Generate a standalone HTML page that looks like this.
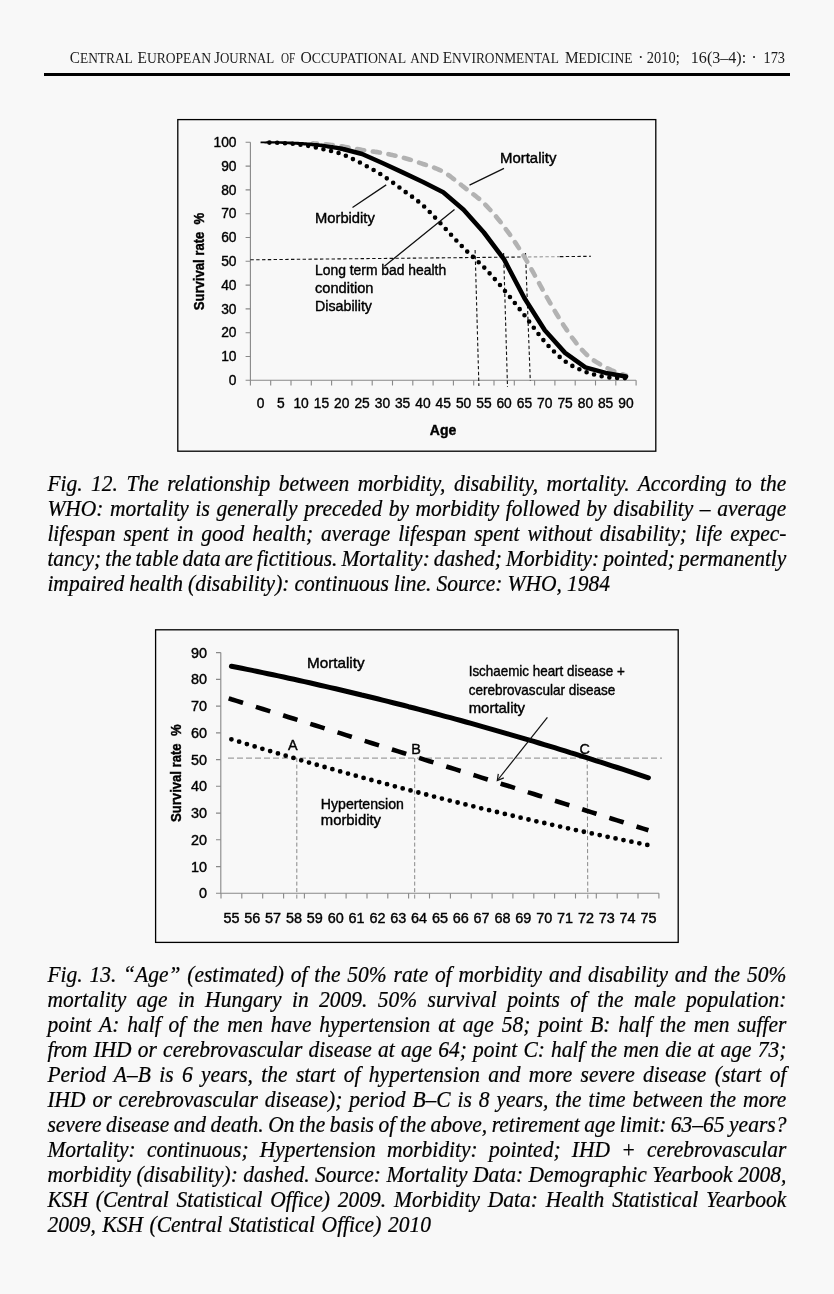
<!DOCTYPE html>
<html><head><meta charset="utf-8"><title>CEJOEM 2010 p173</title>
<style>
html,body{margin:0;padding:0;background:#f8f8f8;}
body{width:834px;height:1294px;position:relative;overflow:hidden;}
.hdr{position:absolute;left:69.6px;top:57.6px;height:0;line-height:0;white-space:nowrap;font-family:"Liberation Serif",serif;font-size:16.6px;color:#111;}
.hdr span.s{font-size:13px;}
.rule{position:absolute;left:44px;top:73px;width:746px;height:3px;background:#000;}
.ln{position:absolute;left:47.4px;width:739px;height:0;line-height:0;white-space:nowrap;font-family:"Liberation Serif",serif;font-style:italic;font-size:21.5px;color:#000;-webkit-text-stroke:0.22px #000;transform:scaleY(1.06);transform-origin:0 7px;}
.ln.j{text-align:justify;text-align-last:justify;}
svg{position:absolute;left:0;top:0;}
.hd{font-family:"Liberation Serif",serif;font-size:16.6px;fill:#1a1a1a;}
.t1{font-family:"Liberation Sans",sans-serif;font-size:13.8px;fill:#000;stroke:#000;stroke-width:0.38px;}
.t1b{font-family:"Liberation Sans",sans-serif;font-size:14px;font-weight:bold;fill:#000;stroke:#000;stroke-width:0.4px;}
.t2{font-family:"Liberation Sans",sans-serif;font-size:14.4px;fill:#000;stroke:#000;stroke-width:0.4px;}
.t2b{font-family:"Liberation Sans",sans-serif;font-size:14px;font-weight:bold;fill:#000;stroke:#000;stroke-width:0.4px;}
</style></head>
<body>
<div class="rule"></div>
<svg width="834" height="1294" viewBox="0 0 834 1294">
<text x="69.8" y="62.8" class="hd" textLength="63.0" lengthAdjust="spacingAndGlyphs">C<tspan font-size="14.6">ENTRAL</tspan></text>
<text x="137.5" y="62.8" class="hd" textLength="73.5" lengthAdjust="spacingAndGlyphs">E<tspan font-size="14.6">UROPEAN</tspan></text>
<text x="214.2" y="62.8" class="hd" textLength="60.0" lengthAdjust="spacingAndGlyphs">J<tspan font-size="14.6">OURNAL</tspan></text>
<text x="281.0" y="62.8" class="hd" textLength="14.3" lengthAdjust="spacingAndGlyphs"><tspan font-size="14.6">OF</tspan></text>
<text x="300.4" y="62.8" class="hd" textLength="105.8" lengthAdjust="spacingAndGlyphs">O<tspan font-size="14.6">CCUPATIONAL</tspan></text>
<text x="410.2" y="62.8" class="hd" textLength="28.8" lengthAdjust="spacingAndGlyphs"><tspan font-size="14.6">AND</tspan></text>
<text x="442.8" y="62.8" class="hd" textLength="116.1" lengthAdjust="spacingAndGlyphs">E<tspan font-size="14.6">NVIRONMENTAL</tspan></text>
<text x="564.9" y="62.8" class="hd" textLength="67.5" lengthAdjust="spacingAndGlyphs">M<tspan font-size="14.6">EDICINE</tspan></text>
<text x="640.8" y="62.8" class="hd" text-anchor="middle">·</text>
<text x="646.8" y="62.8" class="hd" textLength="32.9" lengthAdjust="spacingAndGlyphs">2010;</text>
<text x="690.8" y="62.8" class="hd" textLength="55.4" lengthAdjust="spacingAndGlyphs">16(3–4):</text>
<text x="754.1" y="62.8" class="hd" text-anchor="middle">·</text>
<text x="763.5" y="62.8" class="hd" textLength="21.5" lengthAdjust="spacingAndGlyphs">173</text>
<rect x="177.8" y="119.6" width="478" height="331.6" fill="none" stroke="#000" stroke-width="1.3"/>
<path d="M250.4 142.3 V380.3 H636.1" fill="none" stroke="#888" stroke-width="1.1"/>
<path d="M245.6 380.3 H250.4 M245.6 356.5 H250.4 M245.6 332.7 H250.4 M245.6 308.9 H250.4 M245.6 285.1 H250.4 M245.6 261.3 H250.4 M245.6 237.5 H250.4 M245.6 213.7 H250.4 M245.6 189.9 H250.4 M245.6 166.1 H250.4 M245.6 142.3 H250.4 M250.4 380.3 V385.4 M270.7 380.3 V385.4 M291.0 380.3 V385.4 M311.3 380.3 V385.4 M331.6 380.3 V385.4 M351.9 380.3 V385.4 M372.2 380.3 V385.4 M392.5 380.3 V385.4 M412.8 380.3 V385.4 M433.1 380.3 V385.4 M453.4 380.3 V385.4 M473.7 380.3 V385.4 M494.0 380.3 V385.4 M514.3 380.3 V385.4 M534.6 380.3 V385.4 M554.9 380.3 V385.4 M575.2 380.3 V385.4 M595.5 380.3 V385.4 M615.8 380.3 V385.4 M636.1 380.3 V385.4" stroke="#888" stroke-width="1.1" fill="none"/>
<text x="236.5" y="384.9" text-anchor="end" class="t1">0</text>
<text x="236.5" y="361.1" text-anchor="end" class="t1">10</text>
<text x="236.5" y="337.3" text-anchor="end" class="t1">20</text>
<text x="236.5" y="313.5" text-anchor="end" class="t1">30</text>
<text x="236.5" y="289.7" text-anchor="end" class="t1">40</text>
<text x="236.5" y="265.9" text-anchor="end" class="t1">50</text>
<text x="236.5" y="242.1" text-anchor="end" class="t1">60</text>
<text x="236.5" y="218.3" text-anchor="end" class="t1">70</text>
<text x="236.5" y="194.5" text-anchor="end" class="t1">80</text>
<text x="236.5" y="170.7" text-anchor="end" class="t1">90</text>
<text x="236.5" y="146.9" text-anchor="end" class="t1">100</text>
<text x="260.6" y="408.1" text-anchor="middle" class="t1">0</text>
<text x="280.9" y="408.1" text-anchor="middle" class="t1">5</text>
<text x="301.1" y="408.1" text-anchor="middle" class="t1">10</text>
<text x="321.4" y="408.1" text-anchor="middle" class="t1">15</text>
<text x="341.8" y="408.1" text-anchor="middle" class="t1">20</text>
<text x="362.1" y="408.1" text-anchor="middle" class="t1">25</text>
<text x="382.4" y="408.1" text-anchor="middle" class="t1">30</text>
<text x="402.6" y="408.1" text-anchor="middle" class="t1">35</text>
<text x="423.0" y="408.1" text-anchor="middle" class="t1">40</text>
<text x="443.2" y="408.1" text-anchor="middle" class="t1">45</text>
<text x="463.6" y="408.1" text-anchor="middle" class="t1">50</text>
<text x="483.9" y="408.1" text-anchor="middle" class="t1">55</text>
<text x="504.1" y="408.1" text-anchor="middle" class="t1">60</text>
<text x="524.5" y="408.1" text-anchor="middle" class="t1">65</text>
<text x="544.8" y="408.1" text-anchor="middle" class="t1">70</text>
<text x="565.1" y="408.1" text-anchor="middle" class="t1">75</text>
<text x="585.4" y="408.1" text-anchor="middle" class="t1">80</text>
<text x="605.6" y="408.1" text-anchor="middle" class="t1">85</text>
<text x="626.0" y="408.1" text-anchor="middle" class="t1">90</text>
<text x="443" y="434.6" text-anchor="middle" class="t1b">Age</text>
<text transform="translate(204 261.5) rotate(-90)" text-anchor="middle" class="t1b" textLength="97.5" lengthAdjust="spacingAndGlyphs">Survival rate &#160;%</text>
<path d="M250.4 259.80 L528 256.95 M560 256.62 L591 256.30" stroke="#111" stroke-width="1.1" stroke-dasharray="3.4 2.4" fill="none"/>
<path d="M528 256.95 L560 256.62" stroke="#999" stroke-width="1.1" stroke-dasharray="3.4 2.4" fill="none"/>
<path d="M475.1 250 L478.9 386 M503.6 253 L507.5 387 M525.5 253 L530.3 381" stroke="#111" stroke-width="1.1" stroke-dasharray="3.4 2.4" fill="none"/>
<path d="M313.0 143.3 L314.7 143.5 L316.4 143.6 L318.1 143.7 L319.8 143.8 L321.4 144.0 L323.1 144.1 L324.8 144.3 L326.5 144.4 L328.2 144.6 L329.9 144.8 L331.6 145.0 L333.3 145.2 L335.0 145.4 L336.7 145.6 L338.4 145.9 L340.1 146.1 L341.8 146.3 L343.4 146.6 L345.1 146.9 L346.8 147.2 L348.5 147.5 L350.2 147.8 L351.9 148.1 L353.6 148.4 L355.3 148.7 L357.0 149.0 L358.7 149.3 L360.4 149.6 L362.1 149.9 L363.7 150.2 L365.4 150.4 L367.1 150.7 L368.8 150.9 L370.5 151.2 L372.2 151.4 L373.9 151.6 L375.6 151.9 L377.3 152.1 L379.0 152.4 L380.7 152.7 L382.4 153.0 L384.0 153.3 L385.7 153.7 L387.4 154.0 L389.1 154.3 L390.8 154.7 L392.5 155.1 L394.2 155.4 L395.9 155.8 L397.6 156.2 L399.3 156.7 L401.0 157.1 L402.6 157.5 L404.3 158.0 L406.0 158.5 L407.7 159.0 L409.4 159.5 L411.1 160.0 L412.8 160.5 L414.5 161.1 L416.2 161.6 L417.9 162.2 L419.6 162.8 L421.3 163.4 L423.0 164.0 L424.6 164.5 L426.3 165.1 L428.0 165.7 L429.7 166.2 L431.4 166.8 L433.1 167.3 L434.8 168.0 L436.5 168.6 L438.2 169.3 L439.9 170.1 L441.6 170.9 L443.2 171.8 L444.9 172.8 L446.6 173.9 L448.3 175.0 L450.0 176.2 L451.7 177.5 L453.4 178.8 L455.1 180.1 L456.8 181.4 L458.5 182.8 L460.2 184.1 L461.9 185.5 L463.6 186.8 L465.2 188.1 L466.9 189.4 L468.6 190.6 L470.3 191.9 L472.0 193.2 L473.7 194.5 L475.4 195.8 L477.1 197.2 L478.8 198.6 L480.5 200.1 L482.2 201.6 L483.9 203.2 L485.5 204.9 L487.2 206.7 L488.9 208.5 L490.6 210.3 L492.3 212.2 L494.0 214.1 L495.7 216.1 L497.4 218.2 L499.1 220.3 L500.8 222.4 L502.5 224.6 L504.1 226.8 L505.8 229.1 L507.5 231.4 L509.2 233.7 L510.9 236.1 L512.6 238.6 L514.3 241.1 L516.0 243.6 L517.7 246.2 L519.4 248.9 L521.1 251.5 L522.8 254.3 L524.5 257.0 L526.1 259.8 L527.8 262.8 L529.5 265.7 L531.2 268.8 L532.9 271.9 L534.6 275.0 L536.3 278.1 L538.0 281.2 L539.7 284.3 L541.4 287.4 L543.1 290.5 L544.8 293.4 L546.4 296.4 L548.1 299.3 L549.8 302.3 L551.5 305.3 L553.2 308.2 L554.9 311.1 L556.6 314.0 L558.3 316.8 L560.0 319.6 L561.7 322.3 L563.4 324.9 L565.1 327.5 L566.7 329.9 L568.4 332.4 L570.1 334.8 L571.8 337.2 L573.5 339.4 L575.2 341.7 L576.9 343.9 L578.6 345.9 L580.3 347.9 L582.0 349.9 L583.7 351.7 L585.4 353.4 L587.0 355.0 L588.7 356.5 L590.4 357.9 L592.1 359.2 L593.8 360.4 L595.5 361.5 L597.2 362.6 L598.9 363.6 L600.6 364.6 L602.3 365.6 L604.0 366.5 L605.6 367.4 L607.4 368.4 L609.3 369.2 L611.2 370.1 L613.2 370.9 L615.1 371.7 L617.1 372.4 L618.9 373.0 L620.7 373.7 L622.3 374.2 L623.7 374.7 L625.0 375.2 L626.0 375.5" stroke="#b2b2b2" stroke-width="4.6" stroke-dasharray="7.2 8.7" stroke-dashoffset="3.2" stroke-linecap="round" fill="none"/>
<path d="M260.5 143.2 L262.1 143.3 L263.7 143.3 L265.2 143.4 L266.8 143.4 L268.3 143.4 L269.9 143.5 L271.5 143.5 L273.0 143.6 L274.6 143.6 L276.2 143.7 L277.7 143.7 L279.3 143.7 L280.8 143.8 L282.4 143.9 L283.9 144.0 L285.5 144.1 L287.0 144.2 L288.6 144.3 L290.2 144.4 L291.7 144.5 L293.3 144.6 L294.8 144.7 L296.4 144.8 L298.0 144.9 L299.5 145.0 L301.0 145.1 L302.6 145.2 L304.1 145.4 L305.7 145.6 L307.2 145.8 L308.8 145.9 L310.4 146.1 L311.9 146.3 L313.5 146.4 L315.0 146.6 L316.6 146.8 L318.2 147.0 L319.7 147.1 L321.2 147.3 L322.7 147.6 L324.3 147.8 L325.8 148.1 L327.4 148.4 L328.9 148.7 L330.5 149.0 L332.0 149.3 L333.6 149.5 L335.2 149.8 L336.7 150.1 L338.3 150.4 L339.8 150.7 L341.3 150.9 L342.7 151.3 L344.3 151.8 L345.4 147.3 L343.9 146.9 L342.2 146.5 L340.5 146.3 L339.0 146.0 L337.4 145.8 L335.9 145.6 L334.3 145.4 L332.7 145.1 L331.2 144.9 L329.6 144.7 L328.0 144.4 L326.5 144.2 L324.9 144.0 L323.3 143.7 L321.7 143.5 L320.1 143.4 L318.5 143.2 L316.9 143.1 L315.4 143.0 L313.8 142.9 L312.2 142.8 L310.7 142.6 L309.1 142.5 L307.6 142.4 L306.0 142.3 L304.4 142.2 L302.9 142.0 L301.3 141.9 L299.7 141.9 L298.1 141.8 L296.5 141.8 L295.0 141.7 L293.4 141.7 L291.8 141.6 L290.3 141.6 L288.7 141.5 L287.2 141.5 L285.6 141.4 L284.0 141.4 L282.5 141.3 L280.9 141.3 L279.3 141.3 L277.7 141.3 L276.2 141.3 L274.6 141.3 L273.1 141.3 L271.5 141.3 L269.9 141.3 L268.4 141.3 L266.8 141.3 L265.2 141.4 L263.7 141.4 L262.1 141.4 L260.6 141.4Z" fill="#000"/>
<path d="M344.9 149.5 L362.1 154.0 L382.4 163.0 L402.6 172.3 L423.0 182.0 L443.2 192.3 L463.6 209.7 L483.9 232.5 L504.1 259.4 L524.5 298.2 L544.8 330.3 L565.1 352.9 L585.4 367.4 L605.6 372.9 L626.0 376.6" stroke="#000" stroke-width="4.6" stroke-linejoin="round" stroke-linecap="round" fill="none"/>
<path d="M269.4 142.6 L271.4 142.6 L273.3 142.7 L275.3 142.8 L277.2 142.8 L279.1 142.9 L280.9 143.0 L282.5 143.1 L284.2 143.2 L285.9 143.3 L287.6 143.4 L289.3 143.5 L291.0 143.6 L292.7 143.8 L294.4 143.9 L296.1 144.1 L297.8 144.3 L299.5 144.5 L301.1 144.7 L302.8 144.9 L304.5 145.2 L306.2 145.5 L307.9 145.8 L309.6 146.1 L311.3 146.5 L313.0 146.8 L314.7 147.2 L316.4 147.6 L318.1 147.9 L319.8 148.3 L321.4 148.7 L323.1 149.1 L324.8 149.5 L326.5 149.9 L328.2 150.3 L329.9 150.7 L331.6 151.1 L333.3 151.6 L335.0 152.0 L336.7 152.5 L338.4 153.0 L340.1 153.6 L341.8 154.2 L343.4 154.8 L345.1 155.5 L346.8 156.2 L348.5 157.0 L350.2 157.8 L351.9 158.6 L353.6 159.4 L355.3 160.2 L357.0 161.1 L358.7 162.0 L360.4 162.8 L362.1 163.7 L363.7 164.6 L365.4 165.5 L367.1 166.4 L368.8 167.3 L370.5 168.3 L372.2 169.2 L373.9 170.2 L375.6 171.2 L377.3 172.2 L379.0 173.2 L380.7 174.3 L382.4 175.4 L384.0 176.5 L385.7 177.6 L387.4 178.8 L389.1 180.0 L390.8 181.2 L392.5 182.4 L394.2 183.6 L395.9 184.9 L397.6 186.1 L399.3 187.4 L401.0 188.6 L402.6 189.9 L404.3 191.1 L406.0 192.4 L407.7 193.6 L409.4 194.8 L411.1 196.0 L412.8 197.2 L414.5 198.5 L416.2 199.8 L417.9 201.1 L419.6 202.5 L421.3 203.9 L423.0 205.4 L424.6 206.9 L426.3 208.5 L428.0 210.2 L429.7 211.9 L431.4 213.7 L433.1 215.5 L434.8 217.3 L436.5 219.1 L438.2 220.9 L439.9 222.7 L441.6 224.5 L443.2 226.3 L444.9 228.1 L446.6 229.9 L448.3 231.7 L450.0 233.6 L451.7 235.4 L453.4 237.2 L455.1 239.1 L456.8 240.9 L458.5 242.7 L460.2 244.5 L461.9 246.2 L463.6 248.0 L465.2 249.7 L466.9 251.3 L468.6 252.9 L470.3 254.5 L472.0 256.0 L473.7 257.6 L475.4 259.1 L477.1 260.7 L478.8 262.3 L480.5 263.9 L482.2 265.5 L483.9 267.2 L485.5 269.0 L487.2 270.8 L488.9 272.6 L490.6 274.4 L492.3 276.3 L494.0 278.2 L495.7 280.1 L497.4 282.0 L499.1 283.9 L500.8 285.9 L502.5 287.9 L504.1 289.9 L505.8 291.9 L507.5 293.9 L509.2 296.0 L510.9 298.1 L512.6 300.2 L514.3 302.4 L516.0 304.5 L517.7 306.7 L519.4 308.8 L521.1 311.0 L522.8 313.2 L524.5 315.3 L526.1 317.5 L527.8 319.8 L529.5 322.0 L531.2 324.3 L532.9 326.6 L534.6 328.9 L536.3 331.2 L538.0 333.4 L539.7 335.6 L541.4 337.7 L543.1 339.8 L544.8 341.7 L546.4 343.6 L548.1 345.5 L549.8 347.3 L551.5 349.1 L553.2 350.8 L554.9 352.5 L556.6 354.1 L558.3 355.7 L560.0 357.2 L561.7 358.6 L563.4 360.0 L565.1 361.3 L566.7 362.5 L568.4 363.6 L570.1 364.6 L571.8 365.6 L573.5 366.5 L575.2 367.4 L576.9 368.2 L578.6 369.0 L580.3 369.7 L582.0 370.4 L583.7 371.1 L585.4 371.7 L587.0 372.4 L588.7 373.0 L590.4 373.5 L592.1 374.0 L593.8 374.5 L595.5 374.9 L597.2 375.3 L598.9 375.7 L600.6 376.1 L602.3 376.4 L604.0 376.7 L605.6 377.0 L607.4 377.2 L609.3 377.4 L611.2 377.6 L613.2 377.7 L615.1 377.8 L617.1 377.9 L618.9 378.0 L620.7 378.0 L622.3 378.0 L623.7 378.1 L625.0 378.1 L626.0 378.2" stroke="#000" stroke-width="4.6" stroke-dasharray="0 7.8" stroke-linecap="round" fill="none"/>
<path d="M469.5 185.2 L504 168.3 M352.5 207.5 L386.2 184.9 M384.4 266.2 L454.5 209.6" stroke="#111" stroke-width="1.3" fill="none"/>
<text x="500" y="162.8" class="t1" textLength="56.4" lengthAdjust="spacingAndGlyphs">Mortality</text>
<text x="315" y="223.4" class="t1" textLength="59.8" lengthAdjust="spacingAndGlyphs">Morbidity</text>
<text x="315" y="275.4" class="t1" textLength="131.2" lengthAdjust="spacingAndGlyphs">Long term bad health</text>
<text x="315" y="293" class="t1" textLength="58.5" lengthAdjust="spacingAndGlyphs">condition</text>
<text x="315" y="311.3" class="t1" textLength="57" lengthAdjust="spacingAndGlyphs">Disability</text>
<rect x="155.6" y="629.8" width="522.6" height="312.6" fill="none" stroke="#000" stroke-width="1.3"/>
<path d="M220.8 652.6 V893.3 H658.9" fill="none" stroke="#888" stroke-width="1.1"/>
<path d="M216 893.3 H220.8 M216 866.6 H220.8 M216 839.8 H220.8 M216 813.1 H220.8 M216 786.3 H220.8 M216 759.6 H220.8 M216 732.9 H220.8 M216 706.1 H220.8 M216 679.4 H220.8 M216 652.6 H220.8 M221.0 893.3 V898.5 M241.8 893.3 V898.5 M262.7 893.3 V898.5 M283.6 893.3 V898.5 M304.4 893.3 V898.5 M325.2 893.3 V898.5 M346.1 893.3 V898.5 M367.0 893.3 V898.5 M387.8 893.3 V898.5 M408.6 893.3 V898.5 M429.5 893.3 V898.5 M450.4 893.3 V898.5 M471.2 893.3 V898.5 M492.1 893.3 V898.5 M512.9 893.3 V898.5 M533.8 893.3 V898.5 M554.6 893.3 V898.5 M575.5 893.3 V898.5 M596.3 893.3 V898.5 M617.2 893.3 V898.5 M638.0 893.3 V898.5 M658.9 893.3 V898.5" stroke="#888" stroke-width="1.1" fill="none"/>
<text x="207" y="898.3" text-anchor="end" class="t2">0</text>
<text x="207" y="871.6" text-anchor="end" class="t2">10</text>
<text x="207" y="844.8" text-anchor="end" class="t2">20</text>
<text x="207" y="818.1" text-anchor="end" class="t2">30</text>
<text x="207" y="791.3" text-anchor="end" class="t2">40</text>
<text x="207" y="764.6" text-anchor="end" class="t2">50</text>
<text x="207" y="737.9" text-anchor="end" class="t2">60</text>
<text x="207" y="711.1" text-anchor="end" class="t2">70</text>
<text x="207" y="684.4" text-anchor="end" class="t2">80</text>
<text x="207" y="657.6" text-anchor="end" class="t2">90</text>
<text x="231.4" y="923.4" text-anchor="middle" class="t2">55</text>
<text x="252.3" y="923.4" text-anchor="middle" class="t2">56</text>
<text x="273.1" y="923.4" text-anchor="middle" class="t2">57</text>
<text x="294.0" y="923.4" text-anchor="middle" class="t2">58</text>
<text x="314.8" y="923.4" text-anchor="middle" class="t2">59</text>
<text x="335.7" y="923.4" text-anchor="middle" class="t2">60</text>
<text x="356.5" y="923.4" text-anchor="middle" class="t2">61</text>
<text x="377.4" y="923.4" text-anchor="middle" class="t2">62</text>
<text x="398.2" y="923.4" text-anchor="middle" class="t2">63</text>
<text x="419.1" y="923.4" text-anchor="middle" class="t2">64</text>
<text x="439.9" y="923.4" text-anchor="middle" class="t2">65</text>
<text x="460.8" y="923.4" text-anchor="middle" class="t2">66</text>
<text x="481.6" y="923.4" text-anchor="middle" class="t2">67</text>
<text x="502.5" y="923.4" text-anchor="middle" class="t2">68</text>
<text x="523.3" y="923.4" text-anchor="middle" class="t2">69</text>
<text x="544.2" y="923.4" text-anchor="middle" class="t2">70</text>
<text x="565.0" y="923.4" text-anchor="middle" class="t2">71</text>
<text x="585.9" y="923.4" text-anchor="middle" class="t2">72</text>
<text x="606.7" y="923.4" text-anchor="middle" class="t2">73</text>
<text x="627.6" y="923.4" text-anchor="middle" class="t2">74</text>
<text x="648.4" y="923.4" text-anchor="middle" class="t2">75</text>
<text transform="translate(181.1 773.2) rotate(-90)" text-anchor="middle" class="t2b" textLength="97.5" lengthAdjust="spacingAndGlyphs">Survival rate &#160;%</text>
<path d="M228 758.1 H662" stroke="#888" stroke-width="1.0" stroke-dasharray="6 3" fill="none"/>
<path d="M296.8 758.1 V898.8 M414.7 758.1 V898.8 M587.2 758.1 L587.8 898.8" stroke="#888" stroke-width="1.0" stroke-dasharray="4 2.5" fill="none"/>
<path d="M231.4 666.2 L236.6 667.3 L241.8 668.3 L247.1 669.4 L252.3 670.4 L257.5 671.5 L262.7 672.6 L267.9 673.7 L273.1 674.8 L278.3 675.9 L283.6 677.0 L288.8 678.2 L294.0 679.3 L299.2 680.5 L304.4 681.6 L309.6 682.8 L314.8 684.0 L320.0 685.2 L325.2 686.4 L330.5 687.6 L335.7 688.8 L340.9 690.0 L346.1 691.2 L351.3 692.5 L356.5 693.7 L361.7 695.0 L367.0 696.2 L372.2 697.5 L377.4 698.8 L382.6 700.1 L387.8 701.4 L393.0 702.7 L398.2 704.0 L403.4 705.3 L408.6 706.7 L413.9 708.0 L419.1 709.4 L424.3 710.7 L429.5 712.1 L434.7 713.5 L439.9 714.9 L445.1 716.3 L450.4 717.7 L455.6 719.1 L460.8 720.5 L466.0 722.0 L471.2 723.4 L476.4 724.9 L481.6 726.3 L486.8 727.8 L492.1 729.3 L497.3 730.8 L502.5 732.3 L507.7 733.8 L512.9 735.3 L518.1 736.8 L523.3 738.4 L528.5 739.9 L533.8 741.4 L539.0 743.0 L544.2 744.6 L549.4 746.2 L554.6 747.7 L559.8 749.3 L565.0 750.9 L570.2 752.6 L575.5 754.2 L580.7 755.8 L585.9 757.4 L591.1 759.1 L596.3 760.8 L601.5 762.4 L606.7 764.1 L611.9 765.8 L617.2 767.5 L622.4 769.2 L627.6 770.9 L632.8 772.6 L638.0 774.3 L643.2 776.1 L648.4 777.8" stroke="#000" stroke-width="5" stroke-linecap="round" stroke-linejoin="round" fill="none"/>
<path d="M228.7 698.4 L231.4 699.3 L236.6 700.9 L241.8 702.5 L247.1 704.1 L252.3 705.8 L257.5 707.4 L262.7 709.0 L267.9 710.6 L273.1 712.3 L278.3 713.9 L283.6 715.5 L288.8 717.2 L294.0 718.8 L299.2 720.4 L304.4 722.0 L309.6 723.7 L314.8 725.3 L320.0 726.9 L325.2 728.5 L330.5 730.2 L335.7 731.8 L340.9 733.4 L346.1 735.1 L351.3 736.7 L356.5 738.3 L361.7 740.0 L367.0 741.6 L372.2 743.2 L377.4 744.9 L382.6 746.5 L387.8 748.1 L393.0 749.8 L398.2 751.4 L403.4 753.0 L408.6 754.7 L413.9 756.3 L419.1 757.9 L424.3 759.6 L429.5 761.2 L434.7 762.8 L439.9 764.5 L445.1 766.1 L450.4 767.8 L455.6 769.4 L460.8 771.0 L466.0 772.7 L471.2 774.3 L476.4 775.9 L481.6 777.6 L486.8 779.2 L492.1 780.9 L497.3 782.5 L502.5 784.2 L507.7 785.8 L512.9 787.4 L518.1 789.1 L523.3 790.7 L528.5 792.4 L533.8 794.0 L539.0 795.7 L544.2 797.3 L549.4 798.9 L554.6 800.6 L559.8 802.2 L565.0 803.9 L570.2 805.5 L575.5 807.2 L580.7 808.8 L585.9 810.5 L591.1 812.1 L596.3 813.8 L601.5 815.4 L606.7 817.1 L611.9 818.7 L617.2 820.4 L622.4 822.0 L627.6 823.7 L632.8 825.3 L638.0 827.0 L643.2 828.6 L648.4 830.3" stroke="#000" stroke-width="4.6" stroke-dasharray="15 13.5" fill="none"/>
<path d="M231.4 739.3 L236.6 740.9 L241.8 742.5 L247.1 744.1 L252.3 745.7 L257.5 747.3 L262.7 748.9 L267.9 750.4 L273.1 752.0 L278.3 753.5 L283.6 755.1 L288.8 756.6 L294.0 758.1 L299.2 759.7 L304.4 761.2 L309.6 762.7 L314.8 764.2 L320.0 765.7 L325.2 767.2 L330.5 768.7 L335.7 770.1 L340.9 771.6 L346.1 773.0 L351.3 774.5 L356.5 775.9 L361.7 777.4 L367.0 778.8 L372.2 780.2 L377.4 781.6 L382.6 783.0 L387.8 784.4 L393.0 785.8 L398.2 787.2 L403.4 788.6 L408.6 790.0 L413.9 791.3 L419.1 792.7 L424.3 794.0 L429.5 795.4 L434.7 796.7 L439.9 798.0 L445.1 799.4 L450.4 800.7 L455.6 802.0 L460.8 803.3 L466.0 804.6 L471.2 805.8 L476.4 807.1 L481.6 808.4 L486.8 809.6 L492.1 810.9 L497.3 812.1 L502.5 813.4 L507.7 814.6 L512.9 815.8 L518.1 817.1 L523.3 818.3 L528.5 819.5 L533.8 820.7 L539.0 821.9 L544.2 823.0 L549.4 824.2 L554.6 825.4 L559.8 826.5 L565.0 827.7 L570.2 828.8 L575.5 830.0 L580.7 831.1 L585.9 832.2 L591.1 833.3 L596.3 834.4 L601.5 835.5 L606.7 836.6 L611.9 837.7 L617.2 838.8 L622.4 839.9 L627.6 840.9 L632.8 842.0 L638.0 843.1 L643.2 844.1 L648.4 845.1" stroke="#000" stroke-width="4.8" stroke-dasharray="0 8.1" stroke-linecap="round" fill="none"/>
<path d="M547.4 717.4 L497.3 780.5" stroke="#111" stroke-width="1.2" fill="none"/>
<path d="M498.3 773.8 L497.3 780.5 L503.8 777.9" stroke="#111" stroke-width="1.2" fill="none"/>
<text x="307" y="667.7" class="t2" textLength="57.6" lengthAdjust="spacingAndGlyphs">Mortality</text>
<text x="468.7" y="676.4" class="t2" textLength="156.1" lengthAdjust="spacingAndGlyphs">Ischaemic heart disease +</text>
<text x="468.7" y="694.5" class="t2" textLength="146.7" lengthAdjust="spacingAndGlyphs">cerebrovascular disease</text>
<text x="468.7" y="713.3" class="t2" textLength="56.4" lengthAdjust="spacingAndGlyphs">mortality</text>
<text x="320.8" y="808.9" class="t2" textLength="83.1" lengthAdjust="spacingAndGlyphs">Hypertension</text>
<text x="320.8" y="824.7" class="t2" textLength="60.2" lengthAdjust="spacingAndGlyphs">morbidity</text>
<text x="288" y="749.5" class="t2">A</text>
<text x="411.3" y="754" class="t2">B</text>
<text x="579.5" y="753.6" class="t2">C</text>
</svg>
<div class="ln j" style="top:483.9px;word-spacing:3.05px">Fig. 12. The relationship between morbidity, disability, mortality. According to the</div>
<div class="ln j" style="top:508.9px;word-spacing:1.16px">WHO: mortality is generally preceded by morbidity followed by disability – average</div>
<div class="ln j" style="top:533.9px;word-spacing:2.49px">lifespan spent in good health; average lifespan spent without disability; life expec-</div>
<div class="ln j" style="top:558.9px;word-spacing:-1.36px">tancy; the table data are fictitious. Mortality: dashed; Morbidity: pointed; permanently</div>
<div class="ln" style="top:583.9px;word-spacing:-0.37px">impaired health (disability): continuous line. Source: WHO, 1984</div>
<div class="ln j" style="top:974.9px;word-spacing:1.40px">Fig. 13. “Age” (estimated) of the 50% rate of morbidity and disability and the 50%</div>
<div class="ln j" style="top:999.9px;word-spacing:4.97px">mortality age in Hungary in 2009. 50% survival points of the male population:</div>
<div class="ln j" style="top:1024.9px;word-spacing:2.45px">point A: half of the men have hypertension at age 58; point B: half the men suffer</div>
<div class="ln j" style="top:1049.9px;word-spacing:0.78px">from IHD or cerebrovascular disease at age 64; point C: half the men die at age 73;</div>
<div class="ln j" style="top:1074.9px;word-spacing:2.95px">Period A–B is 6 years, the start of hypertension and more severe disease (start of</div>
<div class="ln j" style="top:1099.9px;word-spacing:1.51px">IHD or cerebrovascular disease); period B–C is 8 years, the time between the more</div>
<div class="ln j" style="top:1124.8px;word-spacing:-0.90px">severe disease and death. On the basis of the above, retirement age limit: 63–65 years?</div>
<div class="ln j" style="top:1149.8px;word-spacing:5.83px">Mortality: continuous; Hypertension morbidity: pointed; IHD + cerebrovascular</div>
<div class="ln j" style="top:1174.8px;word-spacing:-0.03px">morbidity (disability): dashed. Source: Mortality Data: Demographic Yearbook 2008,</div>
<div class="ln j" style="top:1199.8px;word-spacing:2.40px">KSH (Central Statistical Office) 2009. Morbidity Data: Health Statistical Yearbook</div>
<div class="ln" style="top:1224.8px;word-spacing:1.22px">2009, KSH (Central Statistical Office) 2010</div>
</body></html>
